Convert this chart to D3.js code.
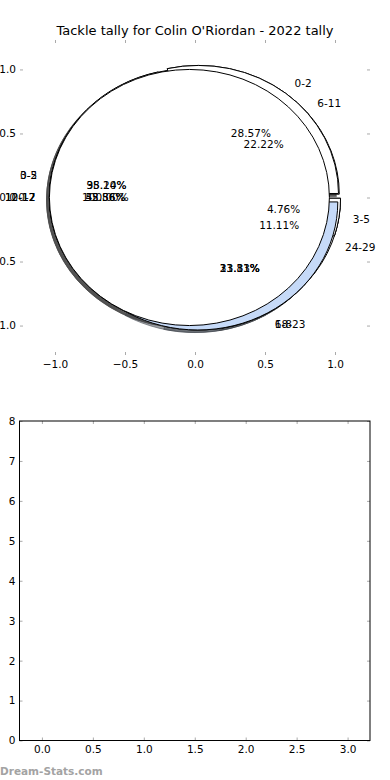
<!DOCTYPE html>
<html>
<head>
<meta charset="utf-8">
<script src="https://cdn.jsdelivr.net/npm/d3@7/dist/d3.min.js"></script>
<style>
    body { margin: 0; background: #fff; }
    text { font-family: "DejaVu Sans", sans-serif; }
</style>
</head>
<body>
<svg id="chart" width="390" height="780"></svg>
<script>
var title = "Tackle tally for Colin O'Riordan - 2022 tally";

// five pies drawn on top of each other (labels = tackle bands, values = games)
var pieALabels = ["0-2", "10-12", "6-8", "3-5"];
var pieAValues = [6, 9, 5, 1];
var pieBLabels = ["6-11", "12-17", "18-23", "24-29"];
var pieBValues = [4, 10, 2, 2];
var pieCLabels = ["0-2", "3-5"];
var pieCValues = [20, 1];
var pieDLabels = ["0-2", "3-5", "6-8"];
var pieDValues = [6, 8, 7];
var pieELabels = ["0-2"];
var pieEValues = [1];

var pieTicks = [-1, -0.5, 0, 0.5, 1];
var barXTicks = [0, 0.5, 1, 1.5, 2, 2.5, 3];
var barYTicks = [0, 1, 2, 3, 4, 5, 6, 7, 8];

var highlight = "6-8";
var explode = 0.04, labelDist = 1.1, pctDist = 0.6;

var pies = [
    [pieALabels, pieAValues],
    [pieBLabels, pieBValues],
    [pieCLabels, pieCValues],
    [pieDLabels, pieDValues],
    [pieELabels, pieEValues]
];

var svg = d3.select("#chart");

// ---- top panel: pies ----
var x = d3.scaleLinear().domain([-1.25, 1.25]).range([20, 370]);
var y = d3.scaleLinear().domain([-1.23, 1.23]).range([355, 40]);
var sx = x(1) - x(0), sy = y(0) - y(1);

svg.append("text")
    .attr("x", 195)
    .attr("y", 35)
    .attr("text-anchor", "middle")
    .style("font-size", "13px")
    .text(title);

var fmt = d3.format(".1f");
function tickStyle(g, labels) {
    g.select(".domain").remove();
    g.selectAll(".tick line").attr("stroke", "#aaa");
    g.selectAll(".tick text").style("font-size", "10.5px").attr("fill", "#000");
    if (!labels) g.selectAll(".tick text").remove();
}

svg.append("g").attr("transform", "translate(0,355)")
    .call(d3.axisBottom(x).tickValues(pieTicks).tickFormat(fmt).tickSize(-3).tickPadding(6))
    .call(tickStyle, true);
svg.append("g").attr("transform", "translate(0,40)")
    .call(d3.axisTop(x).tickValues(pieTicks).tickSize(-3))
    .call(tickStyle, false);
svg.append("g").attr("transform", "translate(20,0)")
    .call(d3.axisLeft(y).tickValues(pieTicks).tickFormat(fmt).tickSize(-3).tickPadding(4))
    .call(tickStyle, true);
svg.append("g").attr("transform", "translate(370,0)")
    .call(d3.axisRight(y).tickValues(pieTicks).tickSize(-3))
    .call(tickStyle, false);

var pie = d3.pie().sort(null).value(function(d) { return d.value; })
    .startAngle(Math.PI / 2).endAngle(Math.PI / 2 - 2 * Math.PI);
var arc = d3.arc().innerRadius(0).outerRadius(1);
var pctFmt = d3.format(".2f");

var slices = [];
pies.forEach(function(p, pi) {
    var total = d3.sum(p[1]);
    var data = p[1].map(function(v, i) { return {label: p[0][i], value: v, total: total, pie: pi}; });
    pie(data).forEach(function(s) {
        var am = (s.startAngle + s.endAngle) / 2;
        s.dx = Math.sin(am);
        s.dy = Math.cos(am);
        slices.push(s);
    });
});

function fillOf(s) { return s.data.label === highlight ? "#c6daf8" : "#ffffff"; }
function shadowOf(s) {
    var c = d3.rgb(fillOf(s));
    return d3.rgb(c.r * 0.3, c.g * 0.3, c.b * 0.3).toString();
}

var pieG = svg.append("g");
// shadows sit below every wedge
pieG.selectAll("path.shadow").data(slices).join("path")
    .attr("class", "shadow")
    .attr("d", arc)
    .attr("transform", function(s) {
        return "translate(" + x(explode * s.dx - 0.02) + "," + y(explode * s.dy - 0.02) + ") scale(" + sx + "," + sy + ")";
    })
    .attr("fill", shadowOf)
    .attr("stroke", shadowOf)
    .attr("fill-opacity", 0.5)
    .attr("stroke-opacity", 0.5)
    .attr("vector-effect", "non-scaling-stroke");

pieG.selectAll("path.wedge").data(slices).join("path")
    .attr("class", "wedge")
    .attr("d", arc)
    .attr("transform", function(s) {
        return "translate(" + x(explode * s.dx) + "," + y(explode * s.dy) + ") scale(" + sx + "," + sy + ")";
    })
    .attr("fill", fillOf)
    .attr("stroke", "#000")
    .attr("stroke-width", 1)
    .attr("vector-effect", "non-scaling-stroke");

// labels and percentages; identical strings at the same spot are drawn once
var textG = svg.append("g").style("font-size", "10.5px");
var seen = {};
function putText(str, dxv, dyv, anchor) {
    var key = str + "|" + x(dxv).toFixed(1) + "|" + y(dyv).toFixed(1);
    if (seen[key]) return;
    seen[key] = true;
    textG.append("text")
        .attr("x", x(dxv)).attr("y", y(dyv)).attr("dy", "0.35em")
        .attr("text-anchor", anchor)
        .text(str);
}
slices.forEach(function(s) {
    var lx = (explode + labelDist) * s.dx, ly = (explode + labelDist) * s.dy;
    putText(s.data.label, lx, ly, lx > 0 ? "start" : "end");
    var px = (explode + pctDist) * s.dx, py = (explode + pctDist) * s.dy;
    putText(pctFmt(100 * s.data.value / s.data.total) + "%", px, py, "middle");
});

// ---- bottom panel: empty axes ----
var bx = d3.scaleLinear().domain([-0.22, 3.22]).range([19.5, 370]);
var by = d3.scaleLinear().domain([0, 8]).range([740.5, 421]);

svg.append("g").attr("transform", "translate(0,740.5)")
    .call(d3.axisBottom(bx).tickValues(barXTicks).tickFormat(fmt).tickSize(-3).tickPadding(5))
    .call(tickStyle, true);
svg.append("g").attr("transform", "translate(0,421)")
    .call(d3.axisTop(bx).tickValues(barXTicks).tickSize(-3))
    .call(tickStyle, false);
svg.append("g").attr("transform", "translate(19.5,0)")
    .call(d3.axisLeft(by).tickValues(barYTicks).tickFormat(d3.format("d")).tickSize(-3).tickPadding(4))
    .call(tickStyle, true);
svg.append("g").attr("transform", "translate(370,0)")
    .call(d3.axisRight(by).tickValues(barYTicks).tickSize(-3))
    .call(tickStyle, false);

svg.append("rect")
    .attr("x", 19.5).attr("y", 421)
    .attr("width", 350.5).attr("height", 319.5)
    .attr("fill", "none")
    .attr("stroke", "#000");

svg.append("text")
    .attr("x", 0).attr("y", 775)
    .style("font-size", "10.5px")
    .style("font-weight", "bold")
    .attr("fill", "#a3a3a3")
    .text("Dream-Stats.com");
</script>
</body>
</html>
